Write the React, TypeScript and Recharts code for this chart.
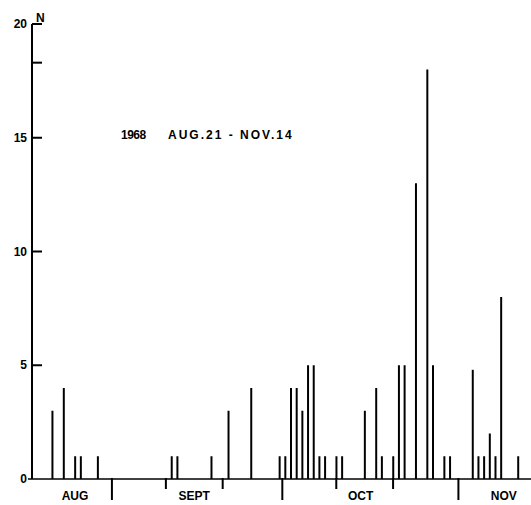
import React from "react";
import { ComposedChart, Bar, XAxis, YAxis } from "recharts";

// Day index: 0 = Aug 21, 1968 ... 85 = Nov 14
const days = [0, 2, 4, 5, 8, 21, 22, 28, 31, 35, 40, 41, 42, 43, 44, 45, 46, 47, 48, 50, 51, 55, 57, 58, 60, 61, 62, 64, 66, 67, 69, 70, 74, 75, 76, 77, 78, 79, 82];
const counts = [3, 4, 1, 1, 1, 1, 1, 1, 3, 4, 1, 1, 4, 4, 3, 5, 5, 1, 1, 1, 1, 3, 4, 1, 1, 5, 5, 13, 18, 5, 1, 1, 4.8, 1, 1, 2, 1, 8, 1];

// x-axis tick marks: month boundaries (long) and 10-day marks (short)
const monthTicks = [10.5, 40.5, 71.5];
const tenDayTicks = [20, 30, 50, 60];
// month label positions (day index) and names
const monthLabelPos = [4, 25, 54.3, 79.5];
const monthLabels = ["AUG", "SEPT", "OCT", "NOV"];

const yTicks = [0, 5, 10, 15, 18.3, 20];
const yLabelled = [0, 5, 10, 15, 20];

const titleYear = "1968";
const titleRange = "AUG.21 - NOV.14";
const yUnit = "N";

const data = days.map((d, i) => ({ day: d, n: counts[i] }));
const allXTicks = [...monthTicks, ...tenDayTicks, ...monthLabelPos];

const FONT = "'Liberation Sans', Arial, sans-serif";

const XTick = (props: any) => {
  const { x, y, payload } = props;
  const v = payload.value;
  const li = monthLabelPos.indexOf(v);
  if (li >= 0) {
    return (
      <text x={x} y={y + 21} textAnchor="middle" fontFamily={FONT} fontWeight="bold" fontSize={12} fill="#000">
        {monthLabels[li]}
      </text>
    );
  }
  const long = monthTicks.indexOf(v) >= 0;
  return <line x1={x} x2={x} y1={y - 1} y2={y + (long ? 21 : 10)} stroke="#000" strokeWidth={2} />;
};

const YTick = (props: any) => {
  const { x, y, payload } = props;
  const v = payload.value;
  const labelled = yLabelled.indexOf(v) >= 0;
  return (
    <g>
      {v === 0 ? (
        <line x1={x - 4} x2={x} y1={y} y2={y} stroke="#000" strokeWidth={1.5} />
      ) : (
        <line x1={x} x2={x + 10} y1={y} y2={y} stroke="#000" strokeWidth={2} />
      )}
      {labelled && (
        <text x={x - 5} y={y} dy="0.35em" textAnchor="end" fontFamily={FONT} fontWeight="bold" fontSize={12} fill="#000">
          {v}
        </text>
      )}
    </g>
  );
};

export default function App() {
  return (
    <div style={{ position: "absolute", left: 0, top: 0, width: 531, height: 505, background: "#fff" }}>
      <ComposedChart width={531} height={505} data={data} margin={{ top: 24, right: 0, bottom: 0, left: 0 }}>
        <XAxis
          dataKey="day"
          type="number"
          domain={[-3.57, 84.28]}
          allowDataOverflow
          ticks={allXTicks}
          interval={0}
          tick={XTick}
          tickLine={false}
          tickSize={0}
          tickMargin={0}
          height={26}
          axisLine={{ stroke: "#000", strokeWidth: 1.5 }}
        />
        <YAxis
          type="number"
          domain={[0, 20]}
          ticks={yTicks}
          interval={0}
          tick={YTick}
          tickLine={false}
          tickSize={0}
          tickMargin={0}
          width={32}
          axisLine={{ stroke: "#000", strokeWidth: 2 }}
        />
        <Bar dataKey="n" fill="#000" barSize={2} isAnimationActive={false} />
      </ComposedChart>
      <div style={{ position: "absolute", left: 36, top: 12, fontFamily: FONT, fontWeight: "bold", fontSize: 12, lineHeight: "12px" }}>
        {yUnit}
      </div>
      <div style={{ position: "absolute", left: 121, top: 129, fontFamily: FONT, fontWeight: "bold", fontSize: 12, lineHeight: "12px", letterSpacing: -0.5, whiteSpace: "pre" }}>
        {titleYear}
      </div>
      <div style={{ position: "absolute", left: 168, top: 129, fontFamily: FONT, fontWeight: "bold", fontSize: 12, lineHeight: "12px", letterSpacing: 2, whiteSpace: "pre" }}>
        {titleRange}
      </div>
    </div>
  );
}
